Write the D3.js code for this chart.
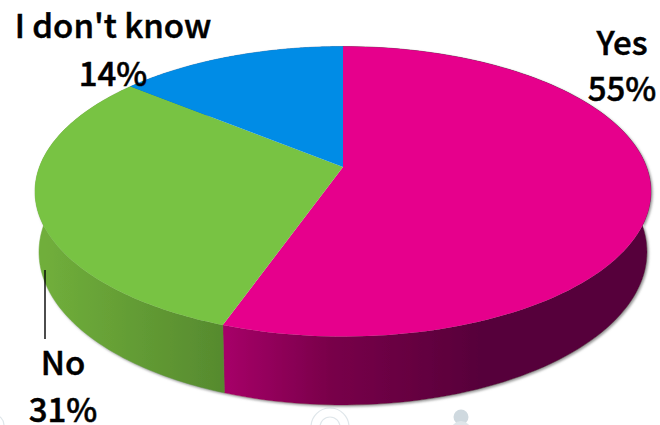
<!DOCTYPE html>
<html><head><meta charset="utf-8">
<script src="https://cdn.jsdelivr.net/npm/d3@7"></script>
<style>html,body{margin:0;padding:0;background:#fff}svg{display:block}text{font-family:"Noto Sans CJK SC","Noto Sans",sans-serif;font-weight:500;font-size:33px;fill:#000;text-anchor:middle;stroke:#000;stroke-width:0.5px}</style>
</head><body><svg id="c" width="660" height="425"></svg>
<script>
const categories = ["Yes", "No", "I don't know"];
const shares = [55.4, 30.5, 14.1];
const topColors = ["#E6008C", "#78C343", "#008CE6"];
const sideStops = [
  [[0, "#A60068"], [0.42, "#780049"], [1, "#57003A"]],
  [[0, "#70AE3B"], [1, "#568A2E"]],
  [[0, "#006AAE"], [1, "#006AAE"]]
];
const labelCenters = [[622, 55, 101], [63, 375, 422], [113, 38, 86]];

const svg = d3.select("#c");
const defs = svg.append("defs");
const TOP = {cx: 343, cy: 191.5, rx: 308, ry: 145};
const BOT = {cx: 343, cy: 252, rx: 304, ry: 153};
const persp = -24.5 / 145;   // moves the pie's centre up inside the ellipse

function project(e, ang) {
  const u = Math.sin(ang), v = -Math.cos(ang);
  const d = 1 + persp * v;
  const xp = u * Math.sqrt(1 - persp * persp) / d;
  const yp = (v + persp) / d;
  return [e.cx + e.rx * xp, e.cy + e.ry * yp];
}
const line = d3.line();
const pieData = d3.pie().sort(null).value(d => d)(shares);
const samples = (a, b) => d3.range(0, 121).map(i => a + (b - a) * i / 120);

const f = defs.append("filter").attr("id", "sh").attr("x", "-5%").attr("y", "-5%").attr("width", "110%").attr("height", "112%");
f.append("feDropShadow").attr("dx", 1.5).attr("dy", 1.5).attr("stdDeviation", 1.3).attr("flood-color", "#777").attr("flood-opacity", 0.75);

// faint background remnants
const bg = svg.append("g").attr("fill", "none").attr("stroke", "#dfe6ea").attr("stroke-width", 1.2);
bg.append("circle").attr("cx", 330).attr("cy", 427).attr("r", 19);
bg.append("circle").attr("cx", 330).attr("cy", 427).attr("r", 10);
bg.append("circle").attr("cx", -6).attr("cy", 425).attr("r", 10);
svg.append("circle").attr("cx", 461).attr("cy", 417).attr("r", 7.5).attr("fill", "#cfd9df");
svg.append("circle").attr("cx", 461).attr("cy", 431).attr("r", 10).attr("fill", "#dfe6ea");

pieData.forEach((d, i) => {
  const g = defs.append("linearGradient").attr("id", "s" + i).attr("gradientUnits", "userSpaceOnUse")
    .attr("x1", i === 1 ? 45 : 225).attr("x2", i === 1 ? 225 : 480).attr("y1", 0).attr("y2", 0);
  sideStops[i].forEach(s => g.append("stop").attr("offset", s[0]).attr("stop-color", s[1]));
});

// extruded rim
const rim = svg.append("g").attr("filter", "url(#sh)");
pieData.forEach((d, i) => {
  const a = samples(d.startAngle, d.endAngle);
  const pts = a.map(t => project(TOP, t)).concat(a.slice().reverse().map(t => project(BOT, t)));
  rim.append("path").attr("d", line(pts) + "Z").attr("fill", `url(#s${i})`)
    .attr("stroke", `url(#s${i})`).attr("stroke-width", 0.5);
});

// top face
const apex = [TOP.cx, TOP.cy + TOP.ry * persp];
svg.append("g").selectAll("path").data(pieData).join("path")
  .attr("d", d => line([apex].concat(samples(d.startAngle, d.endAngle).map(t => project(TOP, t)))) + "Z")
  .attr("fill", (d, i) => topColors[i]);

// leader line for "No"
svg.append("line").attr("x1", 45).attr("x2", 45).attr("y1", 270).attr("y2", 339).attr("stroke", "#000").attr("stroke-width", 1.4);

// labels
const t = svg.append("g");
categories.forEach((c, i) => {
  const [x, y1, y2] = labelCenters[i];
  t.append("text").attr("x", x).attr("y", y1).text(c);
  t.append("text").attr("x", x).attr("y", y2).text(d3.format(".0f")(shares[i]) + "%");
});
</script></body></html>
